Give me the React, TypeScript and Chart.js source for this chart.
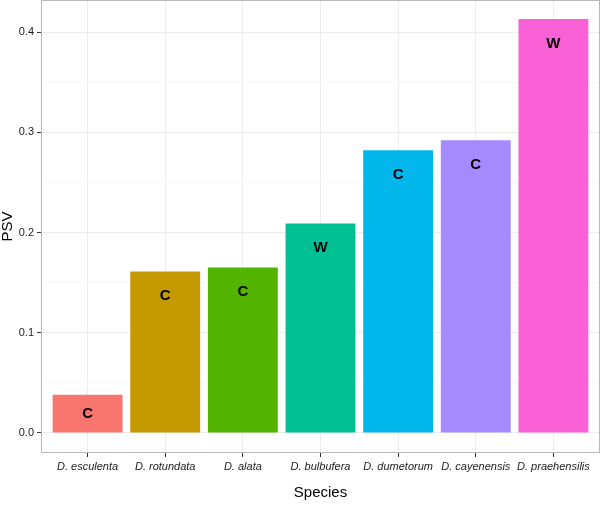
import React, { useEffect, useRef } from "react";
import { Chart, registerables } from "chart.js";

Chart.register(...registerables);

const species = [
  "D. esculenta",
  "D. rotundata",
  "D. alata",
  "D. bulbufera",
  "D. dumetorum",
  "D. cayenensis",
  "D. praehensilis",
];
const psv = [0.038, 0.161, 0.165, 0.209, 0.282, 0.292, 0.413];
const groups = ["C", "C", "C", "W", "C", "C", "W"];
const barColors = ["#F8766D", "#C49A00", "#53B400", "#00C094", "#00B6EB", "#A58AFF", "#FB61D7"];
const yTickValues = [0, 0.05, 0.1, 0.15, 0.2, 0.25, 0.3, 0.35, 0.4];
const yMajor = [0, 0.1, 0.2, 0.3, 0.4];

const FONT = "'Liberation Sans', Arial, Helvetica, sans-serif";

const isMajor = (v: number) => yMajor.some((m) => Math.abs(m - v) < 1e-9);

const panelPlugin = {
  id: "panelBorder",
  afterDatasetsDraw(chart: any) {
    const { ctx } = chart;
    const meta = chart.getDatasetMeta(0);
    ctx.save();
    ctx.font = `bold 15px ${FONT}`;
    ctx.fillStyle = "#000";
    ctx.textAlign = "center";
    ctx.textBaseline = "middle";
    meta.data.forEach((el: any, i: number) => {
      const h = el.base - el.y;
      const off = Math.min(24.5, h / 2);
      ctx.fillText(groups[i], el.x, el.y + off);
    });
    ctx.restore();
  },
  afterDraw(chart: any) {
    const { ctx, chartArea } = chart;
    ctx.save();
    ctx.strokeStyle = "#b8b8b8";
    ctx.lineWidth = 1;
    ctx.strokeRect(
      Math.round(chartArea.left) + 0.5,
      Math.round(chartArea.top) + 0.5,
      Math.round(chartArea.right - chartArea.left) - 1,
      Math.round(chartArea.bottom - chartArea.top) - 1
    );
    ctx.restore();
  },
};

export default function App() {
  const ref = useRef<HTMLCanvasElement | null>(null);

  useEffect(() => {
    document.body.style.margin = "0";
    const canvas = ref.current!;
    const chart = new Chart(canvas, {
      type: "bar",
      data: {
        datasets: [
          {
            data: psv.map((v, i) => ({ x: i, y: v })),
            backgroundColor: barColors,
            borderWidth: 0,
            barPercentage: 0.9,
            categoryPercentage: 1,
          },
        ],
      },
      plugins: [panelPlugin],
      options: {
        animation: false,
        responsive: false,
        maintainAspectRatio: false,
        layout: { padding: { left: 0, top: 0, right: 2, bottom: 0 } },
        plugins: {
          legend: { display: false },
          tooltip: { enabled: false },
        },
        scales: {
          x: {
            type: "linear",
            offset: false,
            min: -0.6,
            max: 6.6,
            afterBuildTicks: (scale: any) => {
              scale.ticks = species.map((_, i) => ({ value: i }));
            },
            afterFit: (scale: any) => {
              scale.height = 54;
              scale.paddingLeft = 0;
              scale.paddingRight = 0;
            },
            ticks: {
              autoSkip: false,
              maxRotation: 0,
              minRotation: 0,
              padding: 3,
              color: "#1a1a1a",
              font: { family: FONT, size: 11, style: "italic" },
              callback: (v: any) => species[Math.round(Number(v))] ?? "",
            },
            grid: {
              offset: false,
              color: "#ececec",
              lineWidth: 1,
              drawTicks: true,
              tickLength: 4,
              tickColor: "#333333",
            },
            border: { display: false },
            title: {
              display: true,
              text: "Species",
              color: "#000",
              font: { family: FONT, size: 15 },
              padding: { top: 5, bottom: 5 },
            },
          },
          y: {
            type: "linear",
            min: -0.02,
            max: 0.432,
            afterBuildTicks: (scale: any) => {
              scale.ticks = yTickValues.map((v) => ({ value: v }));
            },
            afterFit: (scale: any) => {
              scale.width = 41;
              scale.paddingTop = 0;
              scale.paddingBottom = 0;
            },
            ticks: {
              padding: 3,
              color: "#1a1a1a",
              font: { family: FONT, size: 11 },
              callback: (v: any) => (isMajor(Number(v)) ? Number(v).toFixed(1) : ""),
            },
            grid: {
              color: (ctx: any) => (isMajor(ctx.tick.value) ? "#ececec" : "#f7f7f7"),
              lineWidth: 1,
              drawTicks: true,
              tickLength: 4,
              tickColor: (ctx: any) => (isMajor(ctx.tick.value) ? "#333333" : "rgba(0,0,0,0)"),
            },
            border: { display: false },
            title: {
              display: true,
              text: "PSV",
              color: "#000",
              font: { family: FONT, size: 15, lineHeight: 1 },
              padding: { top: 0, bottom: 0 },
            },
          },
        },
      },
    } as any);
    return () => chart.destroy();
  }, []);

  return (
    <div style={{ position: "absolute", left: 0, top: 0, width: 602, height: 507, background: "#fff" }}>
      <canvas ref={ref} width={602} height={507} style={{ display: "block", width: 602, height: 507 }} />
    </div>
  );
}
